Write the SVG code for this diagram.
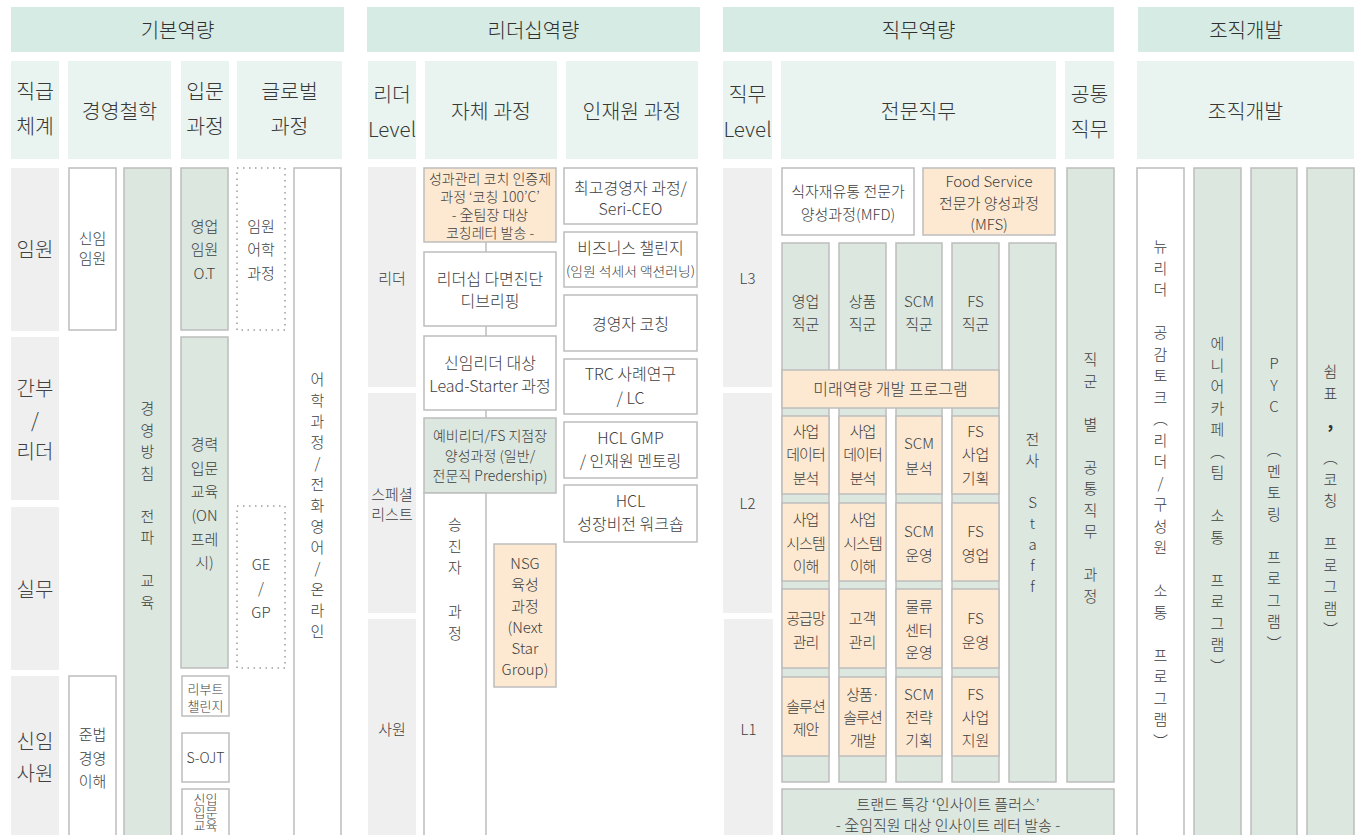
<svg xmlns="http://www.w3.org/2000/svg" width="1370" height="835" viewBox="0 0 1370 835">
<style>
text{font-family:"Noto Sans CJK KR","Noto Sans",sans-serif;fill:#404040;text-anchor:middle;dominant-baseline:central;font-weight:300}
.hdr{fill:#d5ebe3}
.sub{fill:#e9f4f0}
.lbl{fill:#efefef}
.wb{fill:#fff;stroke:#bdbdbd;stroke-width:1.5}
.gb{fill:#dce7df;stroke:#bdbdbd;stroke-width:1.5}
.ob{fill:#fde9d1;stroke:#bdbdbd;stroke-width:1.5}
.db{fill:#fff;stroke:#b5b5b5;stroke-width:2;stroke-dasharray:1.5 4.5}
.h{font-size:20px;fill:#303030}
.s{font-size:20.5px;fill:#383838}
.l20{font-size:20px}
.l15{font-size:15px}
.f16{font-size:16px}
.f15{font-size:15px}
.f14{font-size:14px}
.f13{font-size:13px}
.conn{stroke:#bdbdbd;stroke-width:1.5;fill:none}
</style>

<!-- ===== 기본역량 ===== -->
<g id="sec-basic">
<rect class="hdr" x="11" y="7" width="333" height="45"/>
<text class="h" x="177.5" y="29.5">기본역량</text>
</g>
<g id="sub-rank"><rect class="sub" x="11" y="61" width="48" height="98"/><text class="s"><tspan x="35" y="90">직급</tspan><tspan x="35" y="125">체계</tspan></text></g>
<g id="sub-philo"><rect class="sub" x="68" y="61" width="103" height="98"/><text class="s" x="119.5" y="110">경영철학</text></g>
<g id="sub-intro"><rect class="sub" x="181" y="61" width="48" height="98"/><text class="s"><tspan x="205" y="90">입문</tspan><tspan x="205" y="125">과정</tspan></text></g>
<g id="sub-global"><rect class="sub" x="237" y="61" width="105" height="98"/><text class="s"><tspan x="289.5" y="90">글로벌</tspan><tspan x="289.5" y="125">과정</tspan></text></g>

<g id="lbl-exec"><rect class="lbl" x="11" y="168" width="48" height="163"/><text class="l20" x="35" y="248">임원</text></g>
<g id="lbl-mgr"><rect class="lbl" x="11" y="337" width="48" height="163"/><text class="l20"><tspan x="35" y="387">간부</tspan><tspan x="35" y="419">/</tspan><tspan x="35" y="450">리더</tspan></text></g>
<g id="lbl-staff"><rect class="lbl" x="11" y="507" width="48" height="163"/><text class="l20" x="35" y="588">실무</text></g>
<g id="lbl-new"><rect class="lbl" x="11" y="676" width="48" height="170"/><text class="l20"><tspan x="35" y="740">신임</tspan><tspan x="35" y="772">사원</tspan></text></g>

<g id="n-newexec"><rect class="wb" x="69" y="168" width="47" height="162"/><text class="f15"><tspan x="92.5" y="237">신임</tspan><tspan x="92.5" y="257">임원</tspan></text></g>
<g id="n-compliance"><rect class="wb" x="69" y="676" width="47" height="175"/><text class="f15"><tspan x="92.5" y="733">준법</tspan><tspan x="92.5" y="757">경영</tspan><tspan x="92.5" y="780">이해</tspan></text></g>
<g id="n-policy"><rect class="gb" x="124" y="168" width="47" height="680"/><text class="f15"><tspan x="147.5" y="407">경</tspan><tspan x="147.5" y="428.5">영</tspan><tspan x="147.5" y="450">방</tspan><tspan x="147.5" y="471.5">침</tspan><tspan x="147.5" y="514.5">전</tspan><tspan x="147.5" y="536">파</tspan><tspan x="147.5" y="579">교</tspan><tspan x="147.5" y="600.5">육</tspan></text></g>
<g id="n-salesot"><rect class="gb" x="181" y="168" width="47" height="162"/><text class="f15"><tspan x="204.5" y="225">영업</tspan><tspan x="204.5" y="248">임원</tspan><tspan x="204.5" y="272">O.T</tspan></text></g>
<g id="n-career"><rect class="gb" x="181" y="337" width="47" height="331"/><text class="f15"><tspan x="204.5" y="443">경력</tspan><tspan x="204.5" y="466.5">입문</tspan><tspan x="204.5" y="490">교육</tspan><tspan x="204.5" y="514">(ON</tspan><tspan x="204.5" y="538">프레</tspan><tspan x="204.5" y="561">시)</tspan></text></g>
<g id="n-reboot"><rect class="wb" x="182" y="676" width="47" height="40"/><text class="f13"><tspan x="205.5" y="688">리부트</tspan><tspan x="205.5" y="705">챌린지</tspan></text></g>
<g id="n-sojt"><rect class="wb" x="182" y="733" width="47" height="49"/><text class="f14" x="205.5" y="757">S-OJT</text></g>
<g id="n-newintro"><rect class="wb" x="182" y="789" width="47" height="60"/><text class="f13"><tspan x="205.5" y="798">신입</tspan><tspan x="205.5" y="811">입문</tspan><tspan x="205.5" y="824">교육</tspan></text></g>
<g id="n-execlang"><rect class="db" x="237" y="168" width="48" height="162"/><text class="f15"><tspan x="261" y="225">임원</tspan><tspan x="261" y="248">어학</tspan><tspan x="261" y="272">과정</tspan></text></g>
<g id="n-gegp"><rect class="db" x="237" y="506" width="48" height="162"/><text class="f15"><tspan x="261" y="563">GE</tspan><tspan x="261" y="587">/</tspan><tspan x="261" y="611">GP</tspan></text></g>
<g id="n-lang"><rect class="wb" x="294" y="168" width="47" height="680"/><text class="f15"><tspan x="317.5" y="378">어</tspan><tspan x="317.5" y="399">학</tspan><tspan x="317.5" y="420">과</tspan><tspan x="317.5" y="441">정</tspan><tspan x="317.5" y="462">/</tspan><tspan x="317.5" y="483">전</tspan><tspan x="317.5" y="504">화</tspan><tspan x="317.5" y="525">영</tspan><tspan x="317.5" y="546">어</tspan><tspan x="317.5" y="567">/</tspan><tspan x="317.5" y="588">온</tspan><tspan x="317.5" y="609">라</tspan><tspan x="317.5" y="630">인</tspan></text></g>

<!-- ===== 리더십역량 ===== -->
<g id="sec-lead">
<rect class="hdr" x="367" y="7" width="333" height="45"/>
<text class="h" x="533.5" y="29.5">리더십역량</text>
</g>
<g id="sub-leadlevel"><rect class="sub" x="368" y="61" width="48" height="98"/><text class="s"><tspan x="392" y="93">리더</tspan><tspan x="392" y="128">Level</tspan></text></g>
<g id="sub-own"><rect class="sub" x="425" y="61" width="132" height="98"/><text class="s" x="491" y="110">자체 과정</text></g>
<g id="sub-hrd"><rect class="sub" x="566" y="61" width="132" height="98"/><text class="s" x="632" y="110">인재원 과정</text></g>

<g id="lbl-leader"><rect class="lbl" x="368" y="167" width="48" height="220"/><text class="l15" x="392" y="277">리더</text></g>
<g id="lbl-specialist"><rect class="lbl" x="368" y="393" width="48" height="220"/><text class="l15"><tspan x="392" y="493">스페셜</tspan><tspan x="392" y="513">리스트</tspan></text></g>
<g id="lbl-employee"><rect class="lbl" x="368" y="619" width="48" height="230"/><text class="l15" x="392" y="728">사원</text></g>

<g id="connectors">
<line class="conn" x1="486" y1="242" x2="486" y2="252"/>
<line class="conn" x1="486" y1="326" x2="486" y2="336"/>
<line class="conn" x1="486" y1="410" x2="486" y2="418"/>
</g>

<g id="n-coach100"><rect class="ob" x="424" y="168" width="132" height="74"/><text class="f14"><tspan x="490" y="178">성과관리 코치 인증제</tspan><tspan x="490" y="196">과정 ‘코칭 100’C’</tspan><tspan x="490" y="214">- 全팀장 대상</tspan><tspan x="490" y="232">코칭레터 발송 -</tspan></text></g>
<g id="n-multi"><rect class="wb" x="424" y="252" width="132" height="74"/><text class="f16"><tspan x="490" y="278">리더십 다면진단</tspan><tspan x="490" y="300">디브리핑</tspan></text></g>
<g id="n-leadstarter"><rect class="wb" x="424" y="336" width="132" height="74"/><text class="f16"><tspan x="490" y="362">신임리더 대상</tspan><tspan x="490" y="385">Lead-Starter 과정</tspan></text></g>
<g id="n-preleader"><rect class="gb" x="424" y="418" width="132" height="75"/><text class="f14"><tspan x="490" y="435">예비리더/FS 지점장</tspan><tspan x="490" y="455">양성과정 (일반/</tspan><tspan x="490" y="475">전문직 Predership)</tspan></text></g>
<g id="n-promo"><rect class="wb" x="424" y="493" width="62" height="360"/><text class="f15"><tspan x="455" y="523">승</tspan><tspan x="455" y="545">진</tspan><tspan x="455" y="566">자</tspan><tspan x="455" y="610">과</tspan><tspan x="455" y="632">정</tspan></text></g>
<g id="n-nsg"><rect class="ob" x="494" y="544" width="62" height="143"/><text class="f15"><tspan x="525" y="562">NSG</tspan><tspan x="525" y="583">육성</tspan><tspan x="525" y="605">과정</tspan><tspan x="525" y="626">(Next</tspan><tspan x="525" y="647">Star</tspan><tspan x="525" y="668">Group)</tspan></text></g>

<g id="n-ceo"><rect class="wb" x="564" y="168" width="133" height="56"/><text class="f16"><tspan x="630.5" y="187">최고경영자 과정/</tspan><tspan x="630.5" y="208">Seri-CEO</tspan></text></g>
<g id="n-bizchal"><rect class="wb" x="564" y="232" width="133" height="55"/><text class="f16"><tspan x="630.5" y="247">비즈니스 챌린지</tspan></text><text class="f13" x="630.5" y="270" textLength="129" lengthAdjust="spacingAndGlyphs">(임원 석세서 액션러닝)</text></g>
<g id="n-execcoach"><rect class="wb" x="564" y="295" width="133" height="56"/><text class="f16" x="630.5" y="323">경영자 코칭</text></g>
<g id="n-trc"><rect class="wb" x="564" y="359" width="133" height="55"/><text class="f16"><tspan x="630.5" y="373">TRC 사례연구</tspan><tspan x="630.5" y="397">/ LC</tspan></text></g>
<g id="n-gmp"><rect class="wb" x="564" y="422" width="133" height="56"/><text class="f16"><tspan x="630.5" y="437">HCL GMP</tspan><tspan x="630.5" y="460">/ 인재원 멘토링</tspan></text></g>
<g id="n-vision"><rect class="wb" x="564" y="485" width="133" height="57"/><text class="f16"><tspan x="630.5" y="500">HCL</tspan><tspan x="630.5" y="523">성장비전 워크숍</tspan></text></g>

<!-- ===== 직무역량 ===== -->
<g id="sec-job">
<rect class="hdr" x="723" y="7" width="391" height="45"/>
<text class="h" x="918.5" y="29.5">직무역량</text>
</g>
<g id="sub-joblevel"><rect class="sub" x="723" y="61" width="49" height="98"/><text class="s"><tspan x="747.5" y="93">직무</tspan><tspan x="747.5" y="128">Level</tspan></text></g>
<g id="sub-expert"><rect class="sub" x="781" y="61" width="275" height="98"/><text class="s" x="918.5" y="110">전문직무</text></g>
<g id="sub-common"><rect class="sub" x="1065" y="61" width="49" height="98"/><text class="s"><tspan x="1089.5" y="93">공통</tspan><tspan x="1089.5" y="128">직무</tspan></text></g>

<g id="lbl-l3"><rect class="lbl" x="723" y="168" width="49" height="219"/><text class="l15" x="747.5" y="277">L3</text></g>
<g id="lbl-l2"><rect class="lbl" x="723" y="393" width="49" height="220"/><text class="l15" x="747.5" y="502">L2</text></g>
<g id="lbl-l1"><rect class="lbl" x="724" y="619" width="49" height="230"/><text class="l15" x="748.5" y="728">L1</text></g>

<g id="n-mfd"><rect class="wb" x="782" y="168" width="132" height="67"/><text class="f15"><tspan x="848" y="190">식자재유통 전문가</tspan><tspan x="848" y="213">양성과정(MFD)</tspan></text></g>
<g id="n-mfs"><rect class="ob" x="923" y="168" width="132" height="67"/><text class="f15"><tspan x="989" y="180">Food Service</tspan><tspan x="989" y="202">전문가 양성과정</tspan><tspan x="989" y="223">(MFS)</tspan></text></g>

<g id="n-col-sales"><rect class="gb" x="782" y="243" width="47" height="539"/><text class="f15"><tspan x="805.5" y="300">영업</tspan><tspan x="805.5" y="323">직군</tspan></text></g>
<g id="n-col-prod"><rect class="gb" x="839" y="243" width="47" height="539"/><text class="f15"><tspan x="862.5" y="300">상품</tspan><tspan x="862.5" y="323">직군</tspan></text></g>
<g id="n-col-scm"><rect class="gb" x="896" y="243" width="46" height="539"/><text class="f15"><tspan x="919" y="300">SCM</tspan><tspan x="919" y="323">직군</tspan></text></g>
<g id="n-col-fs"><rect class="gb" x="952" y="243" width="47" height="539"/><text class="f15"><tspan x="975.5" y="300">FS</tspan><tspan x="975.5" y="323">직군</tspan></text></g>
<g id="n-col-staff"><rect class="gb" x="1009" y="243" width="47" height="539"/><text class="f15"><tspan x="1032.5" y="438">전</tspan><tspan x="1032.5" y="459">사</tspan><tspan x="1032.5" y="501">S</tspan><tspan x="1032.5" y="522">t</tspan><tspan x="1032.5" y="543">a</tspan><tspan x="1032.5" y="564">f</tspan><tspan x="1032.5" y="585">f</tspan></text></g>
<g id="n-col-common"><rect class="gb" x="1067" y="168" width="47" height="614"/><text class="f15"><tspan x="1090.5" y="358">직</tspan><tspan x="1090.5" y="379.5">군</tspan><tspan x="1090.5" y="422.5">별</tspan><tspan x="1090.5" y="465.5">공</tspan><tspan x="1090.5" y="487">통</tspan><tspan x="1090.5" y="508.5">직</tspan><tspan x="1090.5" y="530">무</tspan><tspan x="1090.5" y="573">과</tspan><tspan x="1090.5" y="594.5">정</tspan></text></g>

<g id="n-future"><rect class="ob" x="782" y="370" width="217" height="38"/><text class="f16" x="890.5" y="388">미래역량 개발 프로그램</text></g>

<g id="n-c11"><rect class="ob" x="782" y="416" width="47" height="78"/><text class="f15" letter-spacing="-1"><tspan x="805.5" y="430">사업</tspan><tspan x="805.5" y="453">데이터</tspan><tspan x="805.5" y="477">분석</tspan></text></g>
<g id="n-c12"><rect class="ob" x="839" y="416" width="47" height="78"/><text class="f15" letter-spacing="-1"><tspan x="862.5" y="430">사업</tspan><tspan x="862.5" y="453">데이터</tspan><tspan x="862.5" y="477">분석</tspan></text></g>
<g id="n-c13"><rect class="ob" x="896" y="416" width="46" height="78"/><text class="f15"><tspan x="919" y="442">SCM</tspan><tspan x="919" y="467">분석</tspan></text></g>
<g id="n-c14"><rect class="ob" x="952" y="416" width="47" height="78"/><text class="f15"><tspan x="975.5" y="430">FS</tspan><tspan x="975.5" y="453">사업</tspan><tspan x="975.5" y="477">기획</tspan></text></g>

<g id="n-c21"><rect class="ob" x="782" y="503" width="47" height="78"/><text class="f15" letter-spacing="-1"><tspan x="805.5" y="518">사업</tspan><tspan x="805.5" y="542">시스템</tspan><tspan x="805.5" y="565">이해</tspan></text></g>
<g id="n-c22"><rect class="ob" x="839" y="503" width="47" height="78"/><text class="f15" letter-spacing="-1"><tspan x="862.5" y="518">사업</tspan><tspan x="862.5" y="542">시스템</tspan><tspan x="862.5" y="565">이해</tspan></text></g>
<g id="n-c23"><rect class="ob" x="896" y="503" width="46" height="78"/><text class="f15"><tspan x="919" y="530">SCM</tspan><tspan x="919" y="554">운영</tspan></text></g>
<g id="n-c24"><rect class="ob" x="952" y="503" width="47" height="78"/><text class="f15"><tspan x="975.5" y="530">FS</tspan><tspan x="975.5" y="554">영업</tspan></text></g>

<g id="n-c31"><rect class="ob" x="782" y="589" width="47" height="79"/><text class="f15" letter-spacing="-1"><tspan x="805.5" y="617">공급망</tspan><tspan x="805.5" y="641">관리</tspan></text></g>
<g id="n-c32"><rect class="ob" x="839" y="589" width="47" height="79"/><text class="f15"><tspan x="862.5" y="617">고객</tspan><tspan x="862.5" y="641">관리</tspan></text></g>
<g id="n-c33"><rect class="ob" x="896" y="589" width="46" height="79"/><text class="f15"><tspan x="919" y="605">물류</tspan><tspan x="919" y="629">센터</tspan><tspan x="919" y="651">운영</tspan></text></g>
<g id="n-c34"><rect class="ob" x="952" y="589" width="47" height="79"/><text class="f15"><tspan x="975.5" y="617">FS</tspan><tspan x="975.5" y="641">운영</tspan></text></g>

<g id="n-c41"><rect class="ob" x="782" y="677" width="47" height="79"/><text class="f15" letter-spacing="-1"><tspan x="805.5" y="705">솔루션</tspan><tspan x="805.5" y="728">제안</tspan></text></g>
<g id="n-c42"><rect class="ob" x="839" y="677" width="47" height="79"/><text class="f15" letter-spacing="-1"><tspan x="862.5" y="693">상품·</tspan><tspan x="862.5" y="716">솔루션</tspan><tspan x="862.5" y="739">개발</tspan></text></g>
<g id="n-c43"><rect class="ob" x="896" y="677" width="46" height="79"/><text class="f15"><tspan x="919" y="693">SCM</tspan><tspan x="919" y="716">전략</tspan><tspan x="919" y="739">기획</tspan></text></g>
<g id="n-c44"><rect class="ob" x="952" y="677" width="47" height="79"/><text class="f15"><tspan x="975.5" y="693">FS</tspan><tspan x="975.5" y="716">사업</tspan><tspan x="975.5" y="739">지원</tspan></text></g>

<g id="n-trend"><rect class="gb" x="782" y="789" width="332" height="60"/><text class="f15"><tspan x="948" y="803">트랜드 특강 ‘인사이트 플러스’</tspan><tspan x="948" y="824">- 全임직원 대상 인사이트 레터 발송 -</tspan></text></g>

<!-- ===== 조직개발 ===== -->
<g id="sec-org">
<rect class="hdr" x="1138" y="7" width="216" height="45"/>
<text class="h" x="1246" y="29.5">조직개발</text>
</g>
<g id="sub-org"><rect class="sub" x="1137" y="61" width="217" height="98"/><text class="s" x="1245.5" y="110">조직개발</text></g>

<g id="n-newleader"><rect class="wb" x="1137" y="168" width="47" height="680"/><text class="f15"><tspan x="1160.5" y="245">뉴</tspan><tspan x="1160.5" y="266.5">리</tspan><tspan x="1160.5" y="288">더</tspan><tspan x="1160.5" y="331">공</tspan><tspan x="1160.5" y="352.5">감</tspan><tspan x="1160.5" y="374">토</tspan><tspan x="1160.5" y="395.5">크</tspan><tspan x="1160.5" y="417">︵</tspan><tspan x="1160.5" y="438.5">리</tspan><tspan x="1160.5" y="460">더</tspan><tspan x="1160.5" y="481.5">/</tspan><tspan x="1160.5" y="503">구</tspan><tspan x="1160.5" y="524.5">성</tspan><tspan x="1160.5" y="546">원</tspan><tspan x="1160.5" y="589">소</tspan><tspan x="1160.5" y="610.5">통</tspan><tspan x="1160.5" y="653.5">프</tspan><tspan x="1160.5" y="675">로</tspan><tspan x="1160.5" y="696.5">그</tspan><tspan x="1160.5" y="718">램</tspan><tspan x="1160.5" y="739.5">︶</tspan></text></g>
<g id="n-enneacafe"><rect class="gb" x="1194" y="168" width="47" height="680"/><text class="f15"><tspan x="1217.5" y="342">에</tspan><tspan x="1217.5" y="363.5">니</tspan><tspan x="1217.5" y="385">어</tspan><tspan x="1217.5" y="406.5">카</tspan><tspan x="1217.5" y="428">페</tspan><tspan x="1217.5" y="449.5">︵</tspan><tspan x="1217.5" y="471">팀</tspan><tspan x="1217.5" y="514">소</tspan><tspan x="1217.5" y="535.5">통</tspan><tspan x="1217.5" y="578.5">프</tspan><tspan x="1217.5" y="600">로</tspan><tspan x="1217.5" y="621.5">그</tspan><tspan x="1217.5" y="643">램</tspan><tspan x="1217.5" y="664.5">︶</tspan></text></g>
<g id="n-pyc"><rect class="gb" x="1251" y="168" width="46" height="680"/><text class="f15"><tspan x="1274" y="362">P</tspan><tspan x="1274" y="383.5">Y</tspan><tspan x="1274" y="405">C</tspan><tspan x="1274" y="448">︵</tspan><tspan x="1274" y="469.5">멘</tspan><tspan x="1274" y="491">토</tspan><tspan x="1274" y="512.5">링</tspan><tspan x="1274" y="555.5">프</tspan><tspan x="1274" y="577">로</tspan><tspan x="1274" y="598.5">그</tspan><tspan x="1274" y="620">램</tspan><tspan x="1274" y="641.5">︶</tspan></text></g>
<g id="n-rest"><rect class="gb" x="1307" y="168" width="47" height="680"/><text class="f15"><tspan x="1330.5" y="370">쉼</tspan><tspan x="1330.5" y="391.5">표</tspan></text><text x="1330.5" y="420" style="font-size:18px;font-weight:bold;fill:#333">,</text><text class="f15"><tspan x="1330.5" y="456">︵</tspan><tspan x="1330.5" y="477.5">코</tspan><tspan x="1330.5" y="499">칭</tspan><tspan x="1330.5" y="542">프</tspan><tspan x="1330.5" y="563.5">로</tspan><tspan x="1330.5" y="585">그</tspan><tspan x="1330.5" y="606.5">램</tspan><tspan x="1330.5" y="628">︶</tspan></text></g>
</svg>
